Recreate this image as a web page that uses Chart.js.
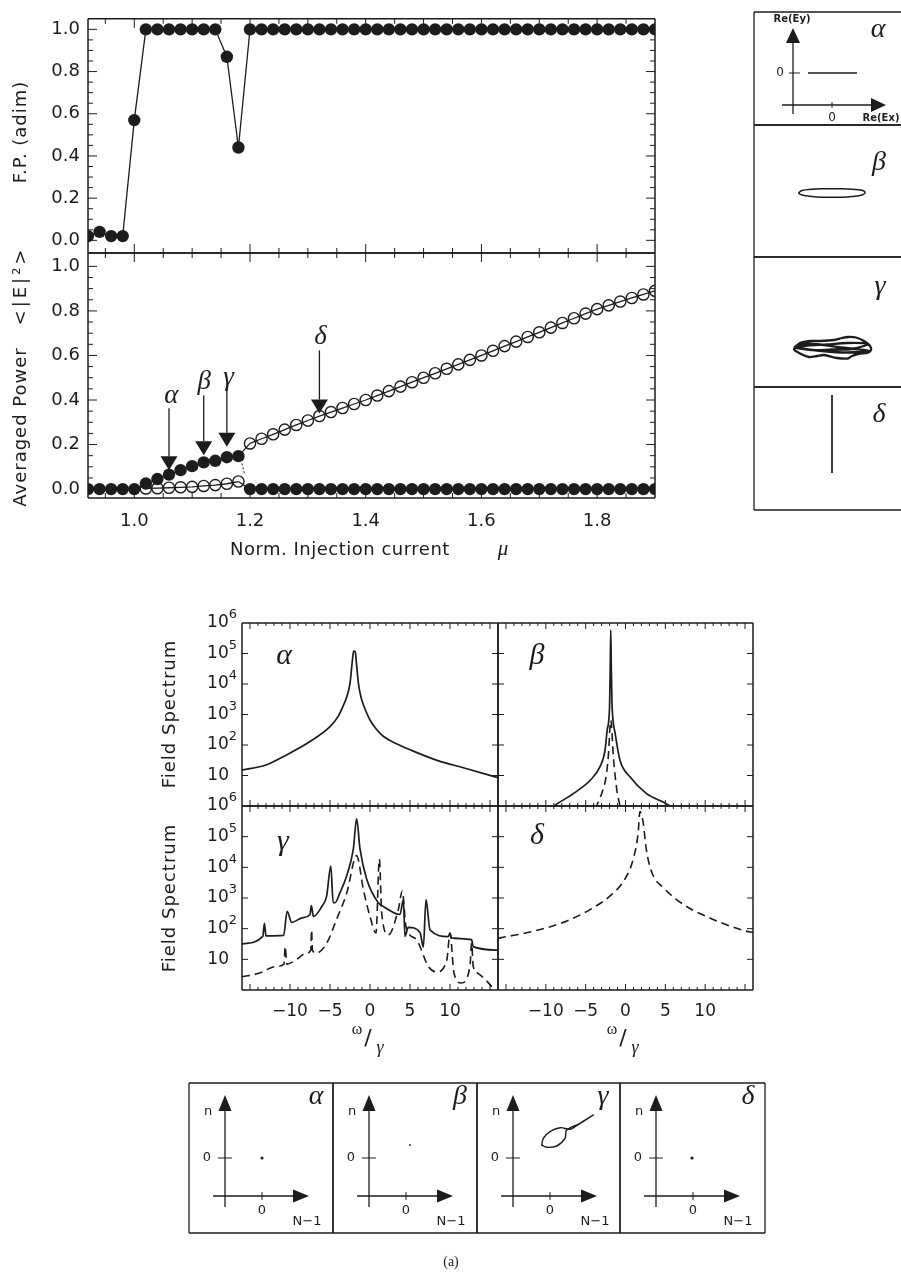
<!DOCTYPE html>
<html>
<head>
<meta charset="utf-8">
<title>Polarization regimes vs injection current</title>
<script src="https://cdn.jsdelivr.net/npm/chart.js@4.4.1/dist/chart.umd.min.js"></script>
<style>
  html, body { margin: 0; padding: 0; background: #fff; }
  #page { position: relative; width: 901px; height: 1278px; overflow: hidden; background: #fff; }
  #page canvas { position: absolute; left: 0; top: 0; }
</style>
</head>
<body>
<div id="page"></div>
<script>
// ---------- values ----------
const mu = [0.92, 0.94, 0.96, 0.98, 1.00, 1.02, 1.04, 1.06, 1.08, 1.10, 1.12, 1.14, 1.16, 1.18,
            1.20, 1.22, 1.24, 1.26, 1.28, 1.30, 1.32, 1.34, 1.36, 1.38, 1.40, 1.42, 1.44, 1.46,
            1.48, 1.50, 1.52, 1.54, 1.56, 1.58, 1.60, 1.62, 1.64, 1.66, 1.68, 1.70, 1.72, 1.74,
            1.76, 1.78, 1.80, 1.82, 1.84, 1.86, 1.88, 1.90];
const fpValues = [0.02, 0.04, 0.02, 0.02, 0.57, 1.0, 1.0, 1.0, 1.0, 1.0, 1.0, 1.0, 0.87, 0.44,
                  1.0, 1.0, 1.0, 1.0, 1.0, 1.0, 1.0, 1.0, 1.0, 1.0, 1.0, 1.0, 1.0, 1.0,
                  1.0, 1.0, 1.0, 1.0, 1.0, 1.0, 1.0, 1.0, 1.0, 1.0, 1.0, 1.0, 1.0, 1.0,
                  1.0, 1.0, 1.0, 1.0, 1.0, 1.0, 1.0, 1.0];
// filled dots: one polarization, open circles: the orthogonal one
const powerFilled = [0, 0, 0, 0, 0, 0.025, 0.045, 0.065, 0.085, 0.103, 0.12, 0.127, 0.143, 0.148,
                     0, 0, 0, 0, 0, 0, 0, 0, 0, 0, 0, 0, 0, 0,
                     0, 0, 0, 0, 0, 0, 0, 0, 0, 0, 0, 0, 0, 0,
                     0, 0, 0, 0, 0, 0, 0, 0];
const powerOpen = [null, null, null, null, null, 0.003, 0.004, 0.006, 0.008, 0.01, 0.014, 0.018, 0.024, 0.034,
                   0.205, 0.226, 0.246, 0.267, 0.288, 0.308, 0.328, 0.346, 0.364, 0.382, 0.400, 0.420, 0.440, 0.460,
                   0.480, 0.500, 0.520, 0.540, 0.560, 0.580, 0.600, 0.621, 0.642, 0.662, 0.683, 0.704, 0.725, 0.746,
                   0.767, 0.788, 0.808, 0.825, 0.842, 0.858, 0.874, 0.890];
const switchIndex = 13;                 // last point before the polarization switch (mu = 1.18)
const breakMarkMu = [1.186, 1.191];
const breakMarkPower = [0.115, 0.063];

const regimeNames = ['α', 'β', 'γ', 'δ'];
const regimeMu = [1.06, 1.12, 1.16, 1.32];
const regimeArrowTop = [0.363, 0.42, 0.475, 0.623];
const regimeArrowTip = [0.085, 0.152, 0.19, 0.339];
const regimeLabelMu = [1.064, 1.121, 1.163, 1.322];
const regimeLabelPower = [0.418, 0.48, 0.50, 0.683];

// field spectra, omega/gamma vs spectral density
const wAlpha = [-16, -13, -10.8, -7.5, -5, -4, -3.4, -2.9, -2.5, -2.2, -2.05, -1.85, -1.7, -1.45, -1.1, -0.8, -0.4, 0, 0.8, 1.7, 3.3, 5, 8.3, 12, 16];
const sAlpha = [15, 22, 42, 130, 400, 850, 1800, 3800, 10500, 60000, 120000, 115000, 50000, 10500, 3500, 2000, 1100, 660, 330, 190, 110, 70, 32, 17, 8.5];
const wBetaSolid = [-9.5, -9, -6.5, -4.4, -3.2, -2.56, -2.3, -2.0, -1.92, -1.85, -1.78, -1.7, -1.6, -1.3, -0.7, 0.56, 2.6, 5.6, 6];
const sBetaSolid = [0.8, 1.0, 2.6, 7.1, 19.5, 69, 310, 1800, 30000, 590000, 30000, 2500, 800, 240, 32, 9.1, 2.6, 1.0, 0.8];
const wBetaDashed = [-3.8, -2.9, -2.44, -2.15, -1.85, -1.5, -1.1, -0.6];
const sBetaDashed = [0.8, 3, 9, 45, 650, 35, 3.5, 0.8];
const wGammaSolid = [-16, -13.4, -13.2, -13.0, -10.8, -10.35, -9.8, -8.5, -7.5, -7.33, -7.08, -6.0, -5.42, -4.9, -4.6, -4.375, -3.75, -2.92, -2.08,
                     -1.67, -1.25, -0.42, 1.04, 1.67, 3.75, 4.17, 4.375, 4.79, 6.25, 6.67, 7.0, 7.5, 9.8, 10, 10.2, 12.7, 12.9, 16];
const sGammaSolid = [32, 56, 150, 58, 60, 370, 160, 225, 290, 570, 250, 540, 1150, 11000, 700, 700, 1500, 5200, 40000,
                     380000, 40000, 4200, 700, 530, 290, 870, 56, 110, 75, 25, 890, 91, 55, 72, 50, 44, 26, 20];
const wGammaDashed = [-16, -13.9, -11.8, -10.75, -10.6, -10.4, -9.6, -7.9, -7.4, -7.3, -7.2, -6.7, -5.4, -4.2, -2.9, -1.67, -0.83, 0, 0.75,
                      1.17, 1.46, 2.3, 3.54, 4.04, 4.5, 5.8, 7.3, 8.3, 9.6, 10, 10.5, 11.4, 12.5, 12.7, 12.9, 13.5, 15, 15.8];
const sGammaDashed = [2.7, 3.5, 5.8, 7, 26, 7, 8.3, 16, 20, 91, 20, 16, 34, 195, 1480, 24000, 1900, 250, 72,
                      18500, 325, 63, 415, 1700, 117, 44, 5.8, 3.9, 9.5, 72, 3.5, 1.7, 6, 34, 6, 3.5, 1.5, 0.8];
const wDelta = [-16, -15.7, -11.5, -7.35, -4.4, -1.94, -0.06, 0.98, 1.6, 1.8, 2.2, 2.6, 3.3, 4.7, 7.2, 11, 15.15, 16];
const sDelta = [48, 50, 83, 178, 427, 1170, 4200, 19000, 141000, 660000, 310000, 40000, 6900, 2240, 630, 200, 83, 76];
const spectrumDecades = [1, 2, 3, 4, 5, 6];          // labelled as 10, 10^2 ... 10^6
const omegaTickText = { '-10': '−10', '-5': '−5', '0': '0', '5': '5', '10': '10' };

// field polarization sketches, Re(Ex) vs Re(Ey) (arbitrary units)
const polAlphaX = [-2.4, 2.5];
const polAlphaY = [0, 0];
const polBetaX = [-3.37, -3.0, -2.0, -1.0, 0, 1.0, 2.0, 3.0, 3.3, 3.0, 2.0, 1.0, 0, -1.0, -2.0, -3.0, -3.37];
const polBetaY = [0, 0.25, 0.37, 0.42, 0.42, 0.42, 0.37, 0.28, 0.05, -0.2, -0.35, -0.42, -0.43, -0.42, -0.35, -0.2, 0];
const polGammaX = [-3.8, -3.2, -2.2, -1.2, 0.2, 1.0, 1.6, 2.4, 3.2, 3.8, 3.9, 3.5, 2.8, 2.0, 1.6, 0.5, -0.8, -1.5,
                   -2.3, -3.1, -3.8, -2.5, -0.5, 1.5, 3.6, 2.0, 0, -2.0, -3.7, -2.4, 0.5, 3.7, 1.5, -1.0, -3.5];
const polGammaY = [0, 0.5, 0.7, 0.7, 0.8, 1.0, 1.1, 1.05, 0.7, 0.2, -0.2, -0.5, -0.55, -0.8, -1.05, -1.0, -0.7, -0.8,
                   -0.9, -0.6, -0.1, 0.25, 0.35, 0.5, 0.4, -0.1, -0.15, -0.2, 0.1, 0.45, 0.1, -0.3, -0.45, -0.3, 0.0];
const polDeltaX = [0, 0];
const polDeltaY = [3.9, -3.9];

// carrier sketches, N-1 vs n (arbitrary units)
const carAlphaX = [0], carAlphaY = [0];
const carBetaX = [0.4], carBetaY = [1.3];
const carGammaX = [-0.83, -0.67, 0, 1, 2, 2.5, 4.33, 3, 1.67, 1.5, 0.67, -0.33, -0.83];
const carGammaY = [1.2, 1.97, 2.63, 3.03, 2.87, 3.13, 4.3, 3.47, 2.8, 1.97, 1.2, 1.07, 1.3];
const carDeltaX = [-0.1], carDeltaY = [0];

// ---------- drawing helpers ----------
const PAGE_W = 901, PAGE_H = 1278;
const INK = '#1c1c1c';
const SANS = '"DejaVu Sans", "Liberation Sans", sans-serif';
const SERIF = '"Liberation Serif", "DejaVu Serif", serif';
const page = document.getElementById('page');
Chart.defaults.font.family = SANS;
Chart.defaults.color = INK;

const pts = (xs, ys) => xs.map((x, i) => ({ x, y: ys[i] }));

function steps(from, to, step, skip) {
  const out = [];
  for (let v = from; v <= to + 1e-9; v += step) {
    const r = Math.round(v * 1000) / 1000;
    if (skip && Math.abs(r / skip - Math.round(r / skip)) < 1e-6) continue;
    out.push(r);
  }
  return out;
}

function drawText(ctx, t, x, y) {
  ctx.save();
  ctx.font = t.font;
  ctx.textAlign = t.align || 'center';
  ctx.textBaseline = 'middle';
  if (t.spacing) ctx.letterSpacing = t.spacing;
  ctx.translate(x, y);
  if (t.rot) ctx.rotate(t.rot);
  ctx.fillText(t.t, 0, 0);
  ctx.restore();
}

function drawArrow(ctx, x1, y1, x2, y2, len, half) {
  const ang = Math.atan2(y2 - y1, x2 - x1);
  const bx = x2 - len * Math.cos(ang), by = y2 - len * Math.sin(ang);
  ctx.beginPath(); ctx.moveTo(x1, y1); ctx.lineTo(bx, by); ctx.stroke();
  ctx.beginPath();
  ctx.moveTo(x2, y2);
  ctx.lineTo(bx + half * Math.sin(ang), by - half * Math.cos(ang));
  ctx.lineTo(bx - half * Math.sin(ang), by + half * Math.cos(ang));
  ctx.closePath(); ctx.fill();
}

// frame, inward ticks, arrows and labels drawn on top of each panel
function deco(cfg) {
  return {
    id: 'deco',
    afterDraw(chart) {
      const ctx = chart.ctx, a = chart.chartArea;
      const X = v => chart.scales.x.getPixelForValue(v);
      const Y = v => chart.scales.y.getPixelForValue(v);
      ctx.save();
      ctx.strokeStyle = INK; ctx.fillStyle = INK;

      const sides = cfg.sides || 'ltrb';
      ctx.lineWidth = cfg.frameWidth || 1.5;
      ctx.beginPath();
      if (sides.includes('t')) { ctx.moveTo(a.left, a.top); ctx.lineTo(a.right, a.top); }
      if (sides.includes('b')) { ctx.moveTo(a.left, a.bottom); ctx.lineTo(a.right, a.bottom); }
      if (sides.includes('l')) { ctx.moveTo(a.left, a.top); ctx.lineTo(a.left, a.bottom); }
      if (sides.includes('r')) { ctx.moveTo(a.right, a.top); ctx.lineTo(a.right, a.bottom); }
      ctx.stroke();

      ctx.lineWidth = 1;
      ctx.beginPath();
      const tx = (vals, len) => (vals || []).forEach(v => {
        const x = X(v);
        ctx.moveTo(x, a.top); ctx.lineTo(x, a.top + len);
        ctx.moveTo(x, a.bottom); ctx.lineTo(x, a.bottom - len);
      });
      const ty = (vals, len) => (vals || []).forEach(v => {
        const y = Y(v);
        ctx.moveTo(a.left, y); ctx.lineTo(a.left + len, y);
        ctx.moveTo(a.right, y); ctx.lineTo(a.right - len, y);
      });
      tx(cfg.xMajor, cfg.majorLen); tx(cfg.xMinor, cfg.minorLen);
      ty(cfg.yMajor, cfg.majorLen); ty(cfg.yMinor, cfg.minorLen);
      (cfg.segs || []).forEach(([x1, y1, x2, y2]) => { ctx.moveTo(X(x1), Y(y1)); ctx.lineTo(X(x2), Y(y2)); });
      ctx.stroke();

      // decade labels 10, 10^2 ... with a raised exponent
      (cfg.decades || []).forEach(e => {
        const y = Y(Math.pow(10, e));
        const right = a.left - 5;
        ctx.textBaseline = 'middle';
        ctx.textAlign = 'right';
        if (e === 1) {
          ctx.font = '17px ' + SANS;
          ctx.fillText('10', right - 8, y);
        } else {
          ctx.font = '13px ' + SANS;
          const ew = ctx.measureText(String(e)).width;
          ctx.fillText(String(e), right, y - 8);
          ctx.font = '17px ' + SANS;
          ctx.fillText('10', right - ew, y);
        }
      });

      ctx.lineWidth = cfg.arrowWidth || 1.2;
      (cfg.arrows || []).forEach(([x1, y1, x2, y2]) =>
        drawArrow(ctx, X(x1), Y(y1), X(x2), Y(y2), cfg.headLen || 14, cfg.headHalf || 7));
      (cfg.dataText || []).forEach(t => drawText(ctx, t, X(t.x), Y(t.y)));
      (cfg.pageText || []).forEach(t => drawText(ctx, t, t.x, t.y));
      ctx.restore();
    }
  };
}

function plot(area, o) {
  const c = document.createElement('canvas');
  c.width = PAGE_W; c.height = PAGE_H;
  page.appendChild(c);
  const yW = o.yW || 0, xH = o.xH || 0;
  const scale = (s, size, horiz) => Object.assign({
    display: size > 0,
    grid: { display: false, drawTicks: false },
    border: { display: false },
    afterFit: sc => { if (horiz) sc.height = size; else sc.width = size; }
  }, s);
  return new Chart(c, {
    type: 'scatter',
    data: { datasets: o.datasets },
    options: {
      responsive: false, animation: false, events: [],
      layout: { autoPadding: false,
                padding: { left: area.l - yW, top: area.t, right: PAGE_W - area.r, bottom: PAGE_H - area.b - xH } },
      plugins: { legend: { display: false }, tooltip: { enabled: false } },
      scales: { x: scale(o.x, xH, true), y: scale(o.y, yW, false) }
    },
    plugins: [deco(o.deco || {})]
  });
}

const tickFont = size => ({ family: SANS, size });
const line = (data, extra) => Object.assign({ data, showLine: true, borderColor: INK, borderWidth: 1.7,
  pointRadius: 0, cubicInterpolationMode: 'monotone' }, extra);
const dashed = data => line(data, { borderDash: [8, 5], borderWidth: 1.6 });
const hideSwitch = { borderColor: c => (c.p0DataIndex === switchIndex ? 'rgba(0,0,0,0)' : undefined) };
const GREEK = px => 'italic ' + px + 'px ' + SERIF;
const ROT = -Math.PI / 2;

// ---------- top left: F.P. and averaged power vs injection current ----------
const muAxis = { type: 'linear', min: 0.92, max: 1.90,
  ticks: { stepSize: 0.2, includeBounds: false, padding: 13, color: INK, font: tickFont(18), maxRotation: 0,
           callback: v => v.toFixed(1) } };
const muTicks = { xMajor: steps(1.0, 1.8, 0.2), xMinor: steps(0.95, 1.85, 0.05, 0.2),
                  yMajor: steps(0, 1, 0.2), yMinor: steps(0.05, 1.0, 0.05, 0.2), majorLen: 9, minorLen: 5 };

plot({ l: 88, t: 10, r: 655, b: 253 }, {
  yW: 80,
  x: muAxis,
  y: { type: 'linear', min: -0.06, max: 1.05,
       ticks: { stepSize: 0.2, includeBounds: false, padding: 8, color: INK, font: tickFont(18), callback: v => v.toFixed(1) } },
  datasets: [
    { data: pts(mu, fpValues), showLine: true, borderColor: INK, borderWidth: 1.3, clip: 0,
      pointRadius: 6.2, pointBackgroundColor: INK, pointBorderWidth: 0 }
  ],
  deco: Object.assign({}, muTicks, {
    pageText: [{ t: 'F.P. (adim)', x: 21, y: 132, rot: ROT, font: '18px ' + SANS, spacing: '1px' }]
  })
});

plot({ l: 88, t: 253, r: 655, b: 498 }, {
  yW: 80, xH: 40,
  x: muAxis,
  y: { type: 'linear', min: -0.04, max: 1.06,
       ticks: { stepSize: 0.2, includeBounds: false, padding: 8, color: INK, font: tickFont(18), callback: v => v.toFixed(1) } },
  datasets: [
    { data: pts(mu, powerFilled), showLine: true, borderColor: INK, borderWidth: 1.3, clip: 0, segment: hideSwitch,
      pointRadius: 6.2, pointBackgroundColor: INK, pointBorderWidth: 0 },
    { data: pts(mu, powerOpen), showLine: true, borderColor: INK, borderWidth: 1.3, clip: 0, segment: hideSwitch,
      pointRadius: 5.6, pointBackgroundColor: 'rgba(0,0,0,0)', pointBorderColor: INK, pointBorderWidth: 1.4 },
    { data: [{ x: mu[switchIndex], y: powerFilled[switchIndex] }, { x: mu[switchIndex + 1], y: powerOpen[switchIndex + 1] }],
      showLine: true, borderColor: INK, borderWidth: 1.3, pointRadius: 0 },
    { data: [{ x: mu[switchIndex], y: powerOpen[switchIndex] }, { x: mu[switchIndex + 1], y: powerFilled[switchIndex + 1] }],
      showLine: true, borderColor: INK, borderWidth: 1.3, pointRadius: 0 },
    { data: pts(breakMarkMu, breakMarkPower), showLine: true, borderColor: INK, borderWidth: 1, borderDash: [2, 2], pointRadius: 0 }
  ],
  deco: Object.assign({}, muTicks, {
    arrows: regimeMu.map((m, i) => [m, regimeArrowTop[i], m, regimeArrowTip[i]]),
    headLen: 14, headHalf: 8.5, arrowWidth: 1.3,
    dataText: regimeNames.map((n, i) => ({ t: n, x: regimeLabelMu[i], y: regimeLabelPower[i], font: GREEK(27) })),
    pageText: [
      { t: 'Averaged Power', x: 21, y: 427, rot: ROT, font: '18px ' + SANS, spacing: '1px' },
      { t: '<|E|²>', x: 21, y: 286, rot: ROT, font: '18px ' + SANS, spacing: '3px' },
      { t: 'Norm. Injection current', x: 230, y: 550, align: 'left', font: '18px ' + SANS, spacing: '0.5px' },
      { t: 'μ', x: 503, y: 549, font: GREEK(21) }
    ]
  })
});

// ---------- top right: polarization sketches ----------
function sketch(area, origin, datasets, cfg) {
  const u = 10;   // pixels per sketch unit
  return plot(area, {
    x: { type: 'linear', min: (area.l - origin[0]) / u, max: (area.r - origin[0]) / u },
    y: { type: 'linear', min: (origin[1] - area.b) / u, max: (origin[1] - area.t) / u },
    datasets,
    deco: Object.assign({ frameWidth: 1.3, headLen: 15, headHalf: 7, arrowWidth: 1.3 }, cfg)
  });
}
const small = px => px + 'px ' + SANS;

sketch({ l: 754, t: 12, r: 901, b: 125 }, [832, 73], [line(pts(polAlphaX, polAlphaY), { cubicInterpolationMode: 'default' })], {
  sides: 'ltb',
  arrows: [[-3.9, -4.1, -3.9, 4.5], [-5.0, -3.2, 5.4, -3.2]],
  segs: [[-4.3, 0, -3.2, 0], [0, -2.9, 0, -3.5]],
  pageText: [
    { t: 'Re(Ey)', x: 792, y: 19, font: 'bold 10px ' + SANS },
    { t: '0', x: 780, y: 73, font: small(12) },
    { t: '0', x: 832, y: 118, font: small(12) },
    { t: 'Re(Ex)', x: 881, y: 118, font: 'bold 10px ' + SANS },
    { t: 'α', x: 878, y: 30, font: GREEK(28) }
  ]
});
sketch({ l: 754, t: 125, r: 901, b: 257 }, [832, 193], [line(pts(polBetaX, polBetaY), { cubicInterpolationMode: 'default', tension: 0.4, borderWidth: 1.5 })], {
  sides: 'ltb', pageText: [{ t: 'β', x: 879, y: 163, font: GREEK(28) }]
});
sketch({ l: 754, t: 257, r: 901, b: 387 }, [832, 348], [line(pts(polGammaX, polGammaY), { cubicInterpolationMode: 'default', tension: 0.3, borderWidth: 2.3 })], {
  sides: 'ltb', pageText: [{ t: 'γ', x: 880, y: 287, font: GREEK(28) }]
});
sketch({ l: 754, t: 387, r: 901, b: 510 }, [832, 434], [line(pts(polDeltaX, polDeltaY), { cubicInterpolationMode: 'default' })], {
  sides: 'ltb', pageText: [{ t: 'δ', x: 879, y: 415, font: GREEK(28) }]
});

// ---------- middle: field spectra ----------
const specX = { type: 'linear', min: -16, max: 16,
  ticks: { stepSize: 5, includeBounds: false, padding: 11, autoSkip: false, maxRotation: 0, color: INK, font: tickFont(17),
           callback: v => omegaTickText[String(v)] || '' } };
const specY = { type: 'logarithmic', min: 1, max: 1e6 };
const specTicks = { xMajor: steps(-15, 15, 5), xMinor: steps(-15, 15, 1, 5), yMajor: [10, 100, 1000, 10000, 100000],
                    majorLen: 6, minorLen: 3 };
const fieldTitle = y => ({ t: 'Field Spectrum', x: 170, y, rot: ROT, font: '18px ' + SANS, spacing: '1px' });
const omegaTitle = cx => [
  { t: 'ω', x: cx - 13, y: 1030, font: '16px ' + SERIF },
  { t: '/', x: cx - 2, y: 1039, font: '22px ' + SANS },
  { t: 'γ', x: cx + 10, y: 1048, font: GREEK(18) }
];

plot({ l: 242, t: 623, r: 498, b: 806 }, {
  x: specX, y: specY,
  datasets: [line(pts(wAlpha, sAlpha))],
  deco: Object.assign({}, specTicks, { decades: spectrumDecades,
    pageText: [fieldTitle(714), { t: 'α', x: 284, y: 656, font: GREEK(30) }] })
});
plot({ l: 498, t: 623, r: 753, b: 806 }, {
  x: specX, y: specY,
  datasets: [line(pts(wBetaSolid, sBetaSolid)), dashed(pts(wBetaDashed, sBetaDashed))],
  deco: Object.assign({}, specTicks, { pageText: [{ t: 'β', x: 537, y: 656, font: GREEK(30) }] })
});
plot({ l: 242, t: 806, r: 498, b: 990 }, {
  xH: 30, x: specX, y: specY,
  datasets: [line(pts(wGammaSolid, sGammaSolid)), dashed(pts(wGammaDashed, sGammaDashed))],
  deco: Object.assign({}, specTicks, { decades: spectrumDecades,
    pageText: [fieldTitle(898), { t: 'γ', x: 283, y: 842, font: GREEK(30) }].concat(omegaTitle(370)) })
});
plot({ l: 498, t: 806, r: 753, b: 990 }, {
  xH: 30, x: specX, y: specY,
  datasets: [dashed(pts(wDelta, sDelta))],
  deco: Object.assign({}, specTicks, { pageText: [{ t: 'δ', x: 537, y: 836, font: GREEK(30) }].concat(omegaTitle(625)) })
});

// ---------- bottom: carrier sketches ----------
const carrierBoxes = [
  { l: 189, r: 333, name: 'α', xs: carAlphaX, ys: carAlphaY },
  { l: 333, r: 477, name: 'β', xs: carBetaX, ys: carBetaY },
  { l: 477, r: 620, name: 'γ', xs: carGammaX, ys: carGammaY },
  { l: 620, r: 765, name: 'δ', xs: carDeltaX, ys: carDeltaY }
];
carrierBoxes.forEach((b, i) => {
  const ox = b.l + 73, oy = 1158;
  const ds = b.xs.length > 1
    ? line(pts(b.xs, b.ys), { cubicInterpolationMode: 'default', tension: 0.4, borderWidth: 1.4 })
    : { data: pts(b.xs, b.ys), pointRadius: i === 1 ? 0.9 : 1.6, pointBackgroundColor: INK, pointBorderWidth: 0 };
  sketch({ l: b.l, t: 1083, r: b.r, b: 1233 }, [ox, oy], [ds], {
    arrows: [[-3.7, -4.9, -3.7, 6.3], [-4.9, -3.8, 4.7, -3.8]],
    headLen: 16, headHalf: 6.5,
    segs: [[-4.4, 0, -3.0, 0], [0, -3.4, 0, -4.2]],
    pageText: [
      { t: 'n', x: b.l + 19, y: 1112, font: small(13) },
      { t: '0', x: b.l + 18, y: 1158, font: small(13) },
      { t: '0', x: ox, y: 1211, font: small(13) },
      { t: 'N−1', x: b.l + 118, y: 1222, font: small(13) },
      { t: b.name, x: b.r - 17, y: 1097, font: GREEK(28) }
    ].concat(i === 3 ? [{ t: '(a)', x: 451, y: 1262, font: '14px ' + SERIF }] : [])
  });
});
</script>
</body>
</html>
